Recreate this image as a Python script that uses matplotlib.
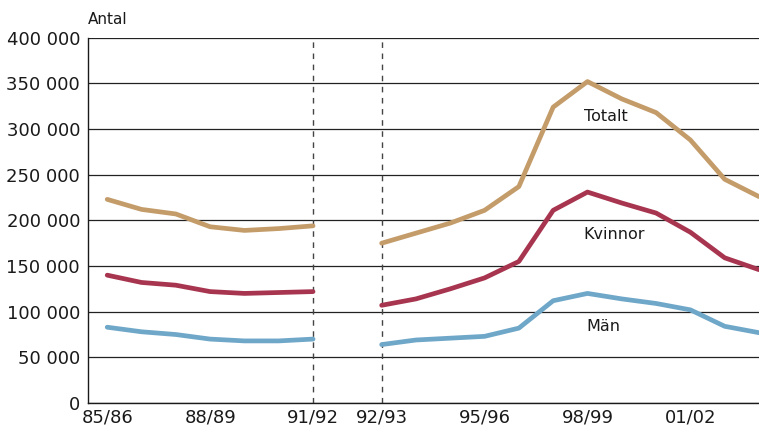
import matplotlib.pyplot as plt
import matplotlib.ticker as mticker
import numpy as np

# Colours
TOTAL_C = "#c49c6a"
KVINNOR_C = "#a8354f"
MAN_C = "#6fa7c9"
GRID_C = "#222222"

plt.rcParams['font.family'] = ['DejaVu Sans']

# Seasons (None = break in the series between 91/92 and 92/93)
seasons = ["85/86", "86/87", "87/88", "88/89", "89/90", "90/91", "91/92", None,
           "92/93", "93/94", "94/95", "95/96", "96/97", "97/98", "98/99",
           "99/00", "00/01", "01/02", "02/03", "03/04"]
tick_seasons = ["85/86", "88/89", "91/92", "92/93", "95/96", "98/99", "01/02"]

totalt = [223000, 212000, 207000, 193000, 189000, 191000, 194000, np.nan,
          175000, 186000, 197000, 211000, 237000, 324000, 352000,
          333000, 318000, 288000, 245000, 226000]
kvinnor = [140000, 132000, 129000, 122000, 120000, 121000, 122000, np.nan,
           107000, 114000, 125000, 137000, 155000, 211000, 231000,
           219000, 208000, 187000, 159000, 146000]
man = [83000, 78000, 75000, 70000, 68000, 68000, 70000, np.nan,
       64000, 69000, 71000, 73000, 82000, 112000, 120000,
       114000, 109000, 102000, 84000, 77000]

x = np.arange(len(seasons))

fig = plt.figure(figsize=(7.59, 4.32), dpi=100)
ax = fig.add_axes([0.1164, 0.0671, 0.8836, 0.8456])

ax.set_ylim(0, 400000)
ax.set_xlim(-0.55, 19.0)

# Horizontal grid lines
ax.yaxis.set_major_locator(mticker.MultipleLocator(50000))
ax.grid(axis='y', color=GRID_C, lw=0.9)
ax.set_axisbelow(True)

# Break markers
for s in ["91/92", "92/93"]:
    ax.axvline(seasons.index(s), color="#444444", lw=1.0, ls=(0, (4, 4)), zorder=1)

ax.plot(x, totalt, color=TOTAL_C, lw=3.4, solid_capstyle='round', solid_joinstyle='round', zorder=3)
ax.plot(x, kvinnor, color=KVINNOR_C, lw=3.4, solid_capstyle='round', solid_joinstyle='round', zorder=3)
ax.plot(x, man, color=MAN_C, lw=3.4, solid_capstyle='round', solid_joinstyle='round', zorder=3)

ax.text(14.55, 314000, "Totalt", fontsize=11.5, ha='center', va='center', color='#1a1a1a')
ax.text(14.78, 185000, "Kvinnor", fontsize=11.5, ha='center', va='center', color='#1a1a1a')
ax.text(14.45, 84000, "Män", fontsize=11.5, ha='center', va='center', color='#1a1a1a')

ax.set_xticks([seasons.index(s) for s in tick_seasons])
ax.set_xticklabels(tick_seasons)
ax.yaxis.set_major_formatter(mticker.FuncFormatter(lambda v, p: f"{int(v):,}".replace(",", " ")))
ax.tick_params(axis='both', length=0, labelsize=13, colors='#1a1a1a', pad=6)
ax.tick_params(axis='x', pad=4)

for side in ['top', 'right']:
    ax.spines[side].set_visible(False)
ax.spines['left'].set_color('#1a1a1a')
ax.spines['bottom'].set_color('#1a1a1a')
ax.spines['left'].set_linewidth(1.0)
ax.spines['bottom'].set_linewidth(1.0)

fig.text(88 / 759, 1 - 20 / 432, "Antal", fontsize=11, ha='left', va='center', color='#1a1a1a')

fig.savefig("out.png", dpi=100)
